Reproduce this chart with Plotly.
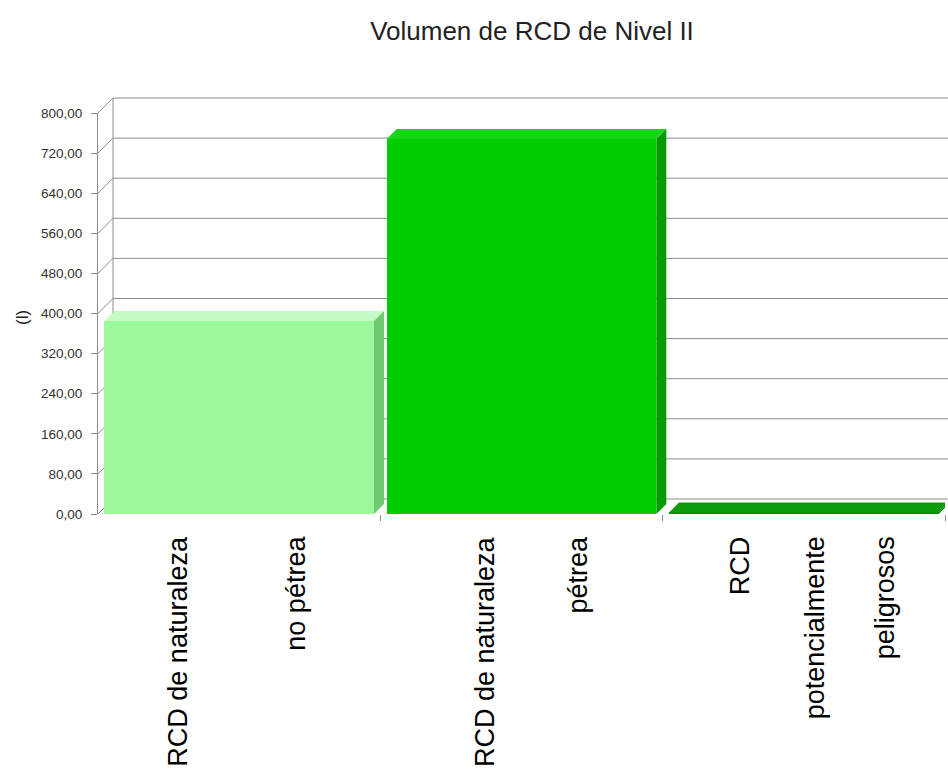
import plotly.graph_objects as go

# ── Data ──────────────────────────────────────────────────────────────
categories = [
    "RCD de naturaleza no pétrea",
    "RCD de naturaleza pétrea",
    "RCD potencialmente peligrosos",
]
label_lines = [
    ["RCD de naturaleza", "no pétrea"],
    ["RCD de naturaleza", "pétrea"],
    ["RCD", "potencialmente", "peligrosos"],
]
volumes = [385.0, 748.0, 3.0]
y_ticks = [0, 80, 160, 240, 320, 400, 480, 560, 640, 720, 800]

# ── Style ─────────────────────────────────────────────────────────────
FRONT = ["#9bf99b", "#00cc00", "#078f07"]
TOP = ["#c6fbc6", "#1ad41a", "#0c9c0c"]
SIDE = ["#6fcb6f", "#009c00", "#067806"]
label_shifts = [[-62, 56], [-37, 56], [-64, 11, 81]]

W, H = 948, 774
ML, MR, MT, MB = 98, 3, 113, 260
PW, PH = W - ML - MR, H - MT - MB
YMAX = 800.0
BAR_W = 0.955
WALL = 15                      # back wall depth, px
DEPTH = 10                     # bar depth, px
cat_px = PW / len(categories)
dx = DEPTH / cat_px
dy = DEPTH / PH * YMAX
GRID = "#8c8c8c"
FONT = "Liberation Sans, Arial, sans-serif"

x_idx = list(range(len(categories)))

fig = go.Figure(go.Bar(
    x=x_idx,
    y=volumes,
    width=BAR_W,
    marker=dict(color=FRONT, line=dict(width=0)),
    hovertext=categories,
    hovertemplate="%{hovertext}: %{y:.2f}<extra></extra>",
))

shapes = []
# back wall: gridlines shifted up/right, diagonals from the axis ticks
wx = WALL / PW
wy = WALL / PH
for v in y_ticks:
    yp = v / YMAX
    shapes.append(dict(type="line", xref="paper", yref="paper", layer="below",
                       x0=wx, x1=1.05, y0=yp + wy, y1=yp + wy,
                       line=dict(color=GRID, width=1)))
    shapes.append(dict(type="line", xref="paper", yref="paper", layer="below",
                       x0=0, x1=wx, y0=yp, y1=yp + wy,
                       line=dict(color=GRID, width=1)))
shapes.append(dict(type="line", xref="paper", yref="paper", layer="below",
                   x0=wx, x1=wx, y0=wy, y1=1 + wy,
                   line=dict(color=GRID, width=1)))

# 3D faces of the bars
for i, v in enumerate(volumes):
    xl, xr = i - BAR_W / 2, i + BAR_W / 2
    shapes.append(dict(
        type="path", xref="x", yref="y", layer="above", line=dict(width=0),
        fillcolor=TOP[i],
        path=f"M {xl},{v} L {xl + dx},{v + dy} L {xr + dx},{v + dy} L {xr},{v} Z",
    ))
    shapes.append(dict(
        type="path", xref="x", yref="y", layer="above", line=dict(width=0),
        fillcolor=SIDE[i],
        path=f"M {xr},0 L {xr + dx},{dy} L {xr + dx},{v + dy} L {xr},{v} Z",
    ))

# category labels, one rotated annotation per line
annotations = []
for i, lines in enumerate(label_lines):
    for line, shift in zip(lines, label_shifts[i]):
        annotations.append(dict(
            x=i, xref="x", y=-20 / PH, yref="paper",
            text=line, textangle=-90, showarrow=False,
            xanchor="center", yanchor="top", xshift=shift,
            font=dict(family=FONT, size=27, color="#000000"),
        ))
# y axis title
annotations.append(dict(
    x=(22 - ML) / PW, xref="paper", y=(514 - 318) / PH, yref="paper",
    text="(l)", textangle=-90, showarrow=False,
    xanchor="center", yanchor="middle",
    font=dict(family=FONT, size=17, color="#222222"),
))

fig.update_layout(
    width=W, height=H,
    margin=dict(l=ML, r=MR, t=MT, b=MB),
    paper_bgcolor="#ffffff",
    plot_bgcolor="rgba(0,0,0,0)",
    separators=",.",
    showlegend=False,
    bargap=0,
    title=dict(
        text="Volumen de RCD de Nivel II",
        x=532 / W, xref="container", xanchor="center",
        y=1 - 31 / H, yref="container", yanchor="middle",
        font=dict(family=FONT, size=26, color="#222222"),
    ),
    shapes=shapes,
    annotations=annotations,
)
fig.update_xaxes(
    automargin=False,
    range=[-0.5, len(categories) - 0.5],
    tickvals=[i + 0.5 for i in x_idx],
    showticklabels=False,
    ticks="outside", ticklen=6, tickcolor=GRID,
    showgrid=False, zeroline=False, showline=False,
)
fig.update_yaxes(
    automargin=False,
    range=[0, YMAX],
    tickvals=y_ticks,
    tickformat=".2f",
    ticks="outside", ticklen=6, tickcolor=GRID,
    ticklabelstandoff=6,
    showline=True, linecolor=GRID, linewidth=1,
    showgrid=False, zeroline=False,
    tickfont=dict(family=FONT, size=13.5, color="#333333"),
)

fig.write_html(
    "out.html",
    config={"displayModeBar": False},
    post_script="document.body.style.margin='0';",
)
